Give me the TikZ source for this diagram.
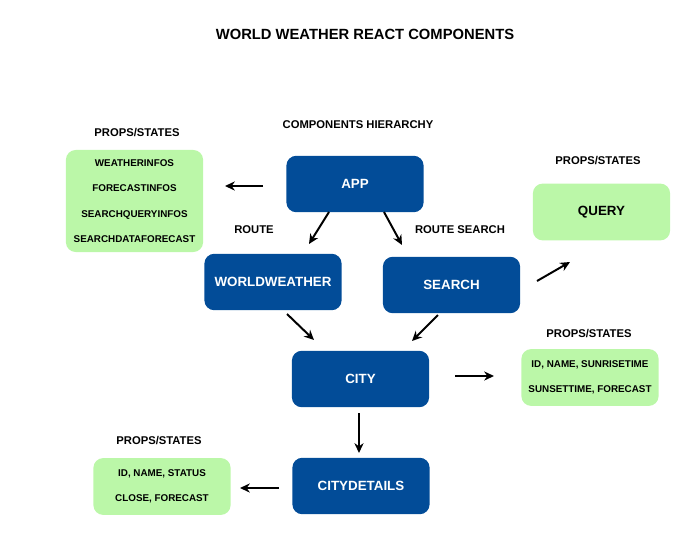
\documentclass[tikz,border=0pt]{standalone}
\usepackage{fontspec}
\setmainfont{Liberation Sans}
\usetikzlibrary{arrows.meta, positioning}
\definecolor{appblue}{RGB}{2,76,152}
\definecolor{propgreen}{RGB}{187,247,168}

\begin{document}
\begin{tikzpicture}[x=0.025cm, y=-0.025cm, >={Stealth[length=7pt, width=6.5pt]}]
  \tikzstyle{comp}=[rounded corners=7pt, fill=appblue, text=white, minimum width=3.43cm, minimum height=1.41cm, font=\bfseries\fontsize{9.5}{11}\selectfont]
  \tikzstyle{props}=[rounded corners=7pt, fill=propgreen, minimum width=3.43cm, minimum height=1.42cm, align=center, font=\bfseries\fontsize{7}{18}\selectfont]
  \tikzstyle{caption}=[font=\bfseries\fontsize{8}{10}\selectfont]
  \tikzstyle{link}=[->, line width=1.4pt]

  \useasboundingbox (0,0) rectangle (700,560);

  \node[font=\bfseries\fontsize{10.5}{13}\selectfont] (title) at (365,34) {WORLD WEATHER REACT COMPONENTS};
  \node[caption] (hierarchy) at (358,125) {COMPONENTS HIERARCHY};

  % components
  \node[comp] (app)          at (355,184)   {APP};
  \node[comp] (worldweather) at (273,282) {WORLDWEATHER};
  \node[comp] (search)       at (451.5,285) {SEARCH};
  \node[comp] (city)         at (360.5,379) {CITY};
  \node[comp] (citydetails)  at (361,486) {CITYDETAILS};

  % props / states
  \node[props, minimum height=2.55cm] (appprops) at (134.5,201)
    {WEATHERINFOS\\FORECASTINFOS\\SEARCHQUERYINFOS\\SEARCHDATAFORECAST};
  \node[props, font=\bfseries\fontsize{9.5}{11}\selectfont] (query) at (601.5,212) {QUERY};
  \node[props] (cityprops) at (590,377.5) {ID, NAME, SUNRISETIME\\SUNSETTIME, FORECAST};
  \node[props] (detailprops) at (162,486.5) {ID, NAME, STATUS\\CLOSE, FORECAST};

  \node[caption] (appprops-cap) at (137,133) {PROPS/STATES};
  \node[caption] (query-cap) at (598,161) {PROPS/STATES};
  \node[caption] (cityprops-cap) at (589,334) {PROPS/STATES};
  \node[caption] (detailprops-cap) at (159,441) {PROPS/STATES};
  \node[caption] (route) at (254,230) {ROUTE};
  \node[caption] (routesearch) at (460,230) {ROUTE SEARCH};

  % arrow ends
  \coordinate (a1) at (263,186);  \coordinate (b1) at (225,186);
  \coordinate (a2) at (329,212);  \coordinate (b2) at (309,244);
  \coordinate (a3) at (384,212);  \coordinate (b3) at (402,245);
  \coordinate (a4) at (287,314);  \coordinate (b4) at (314,340);
  \coordinate (a5) at (438,315);  \coordinate (b5) at (412,341);
  \coordinate (a6) at (537,281);  \coordinate (b6) at (570,262);
  \coordinate (a7) at (455,376);  \coordinate (b7) at (494,376);
  \coordinate (a8) at (359,413);  \coordinate (b8) at (359,453);
  \coordinate (a9) at (279,488);  \coordinate (b9) at (240,488);

  \foreach \i in {1,...,9}
    \draw[link] (a\i) -- (b\i);
\end{tikzpicture}
\end{document}
